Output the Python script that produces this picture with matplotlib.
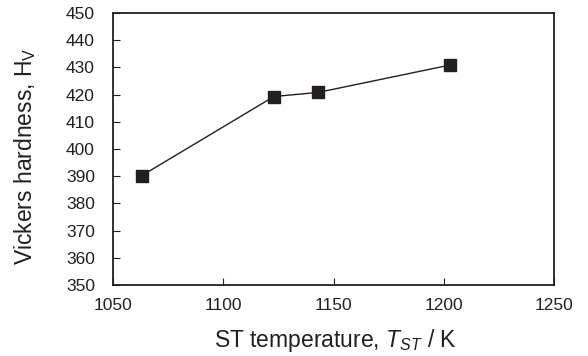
import matplotlib
matplotlib.use("Agg")
import matplotlib.pyplot as plt

temperature = [1063, 1123, 1143, 1203]
hardness = [390.2, 419.3, 420.8, 430.9]
xticks = [1050, 1100, 1150, 1200, 1250]
yticks = [350, 360, 370, 380, 390, 400, 410, 420, 430, 440, 450]

plt.rcParams['font.family'] = ['Liberation Sans', 'DejaVu Sans']
plt.rcParams['mathtext.fontset'] = 'custom'
plt.rcParams['mathtext.rm'] = 'Liberation Sans'
plt.rcParams['mathtext.it'] = 'Liberation Sans:italic'

fig = plt.figure(figsize=(5.88, 3.56), dpi=100)
ax = fig.add_axes([113/588, 1 - 285/356, (554 - 113)/588, (285 - 13)/356])
col = '#231f20'
ax.plot(temperature, hardness, color=col, lw=1.0, marker='s', markersize=8.5,
        markerfacecolor=col, markeredgecolor=col)
ax.set_xlim(1050, 1250)
ax.set_ylim(350, 450)
ax.set_xticks(xticks)
ax.set_yticks(yticks)
ax.tick_params(direction='in', length=5, width=0.8, labelsize=12.5, colors=col,
               top=False, right=False)
ax.tick_params(axis='y', pad=13)
ax.tick_params(axis='x', pad=9)
for s in ax.spines.values():
    s.set_linewidth(1.3)
    s.set_color(col)
ax.set_ylabel('Vickers hardness, H$_\\mathrm{V}$', fontsize=16.5, color=col)
ax.set_xlabel('ST temperature, $T_{ST}$ / K', fontsize=16.5, color=col)
ax.yaxis.set_label_coords(-(113 - 38) / 441, 0.475)
ax.xaxis.set_label_coords(0.505, -(327 - 285) / 272)
fig.savefig('out.png', dpi=100)
